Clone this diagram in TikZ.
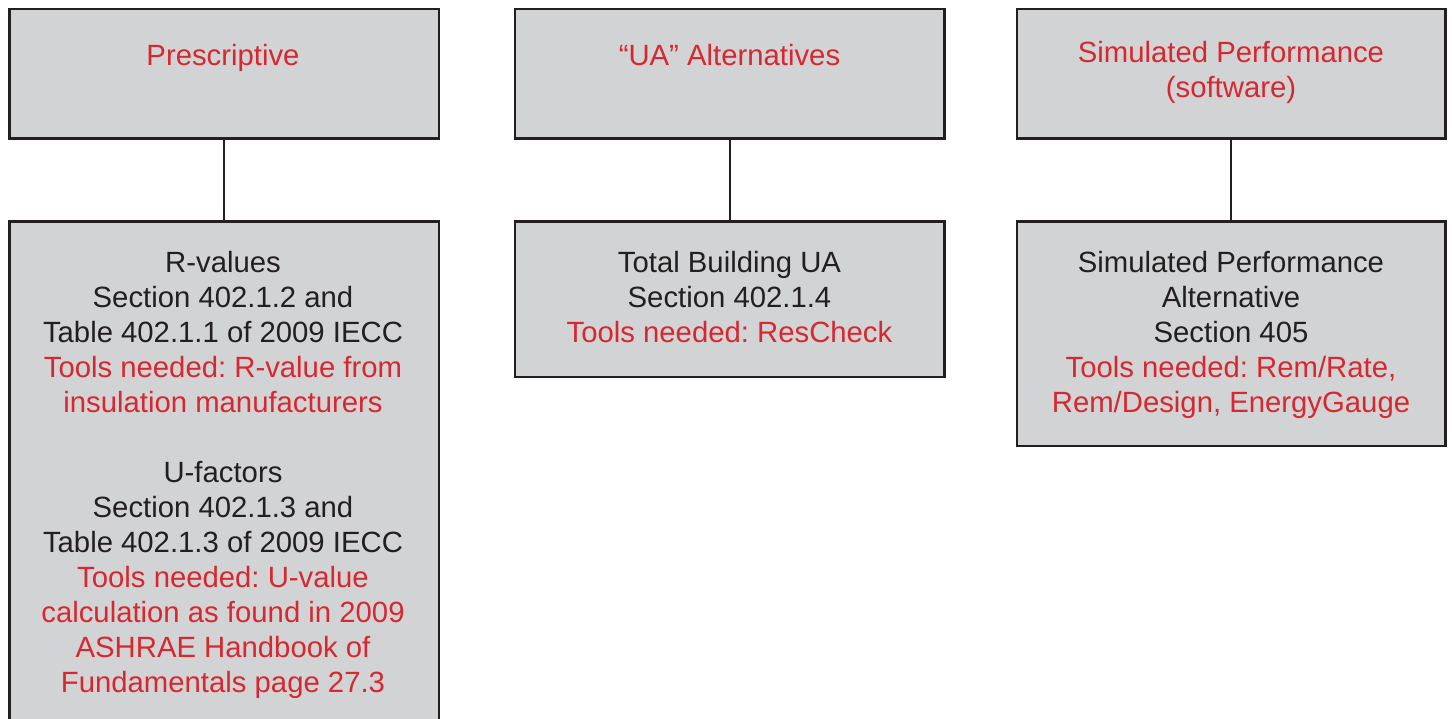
\documentclass[tikz,border=0pt]{standalone}
\usepackage{fontspec}
\setmainfont{Liberation Sans}
\frenchspacing
\definecolor{boxfill}{HTML}{D1D3D4}
\definecolor{linec}{HTML}{231F20}
\definecolor{txtred}{HTML}{D7282F}
\definecolor{txtblk}{HTML}{231F20}
\tikzset{
  box/.style={rectangle, draw=linec, fill=boxfill, line width=2.4pt, inner sep=0pt, outer sep=0pt, anchor=north west},
  conn/.style={draw=linec, line width=2.4pt},
  lbl/.style={align=center, anchor=north, inner sep=0pt, text=txtblk, font=\fontsize{29.3}{35}\selectfont\frenchspacing},
}
\newcommand{\rd}[1]{\textcolor{txtred}{#1}}
\begin{document}
\begin{tikzpicture}[x=1pt,y=-1pt]
\useasboundingbox (0,0) rectangle (1452,719);
\clip (0,0) rectangle (1452,719);
% top boxes
\node[box, minimum width=429.5pt, minimum height=129.4pt] (p) at (9.5,9.3) {};
\node[box, minimum width=429.5pt, minimum height=129.4pt] (u) at (515,9.3) {};
\node[box, minimum width=428.8pt, minimum height=129.4pt] (s) at (1016.7,9.3) {};
% bottom boxes
\node[box, minimum width=429.5pt, minimum height=540pt] (pb) at (9.5,221.7) {};
\node[box, minimum width=429.5pt, minimum height=155.3pt] (ub) at (515,221.7) {};
\node[box, minimum width=428.8pt, minimum height=224pt] (sb) at (1016.7,221.7) {};
% connectors
\draw[conn] (p.south) -- (pb.north);
\draw[conn] (u.south) -- (ub.north);
\draw[conn] (s.south) -- (sb.north);
% labels
\node[lbl] (pt) at (223,41) {\strut\rd{Prescriptive}};
\node[lbl] (ut) at (729.5,41) {\strut\rd{“UA” Alternatives}};
\node[lbl] (st) at (1231,38) {\strut\rd{Simulated Performance}\\\rd{(software)}};
\node[lbl] (pbt) at (223,247.5) {\strut R-values\\Section 402.1.2 and\\Table 402.1.1 of 2009 IECC\\\rd{Tools needed: R-value from}\\\rd{insulation manufacturers}\\[35pt]U-factors\\Section 402.1.3 and\\Table 402.1.3 of 2009 IECC\\\rd{Tools needed: U-value}\\\rd{calculation as found in 2009}\\\rd{ASHRAE Handbook of}\\\rd{Fundamentals page 27.3}};
\node[lbl] (ubt) at (729.5,247.5) {\strut Total Building UA\\Section 402.1.4\\\rd{Tools needed: ResCheck}};
\node[lbl] (sbt) at (1231,247.5) {\strut Simulated Performance\\Alternative\\Section 405\\\rd{Tools needed: Rem/Rate,}\\\rd{Rem/Design, EnergyGauge}};
\end{tikzpicture}
\end{document}
